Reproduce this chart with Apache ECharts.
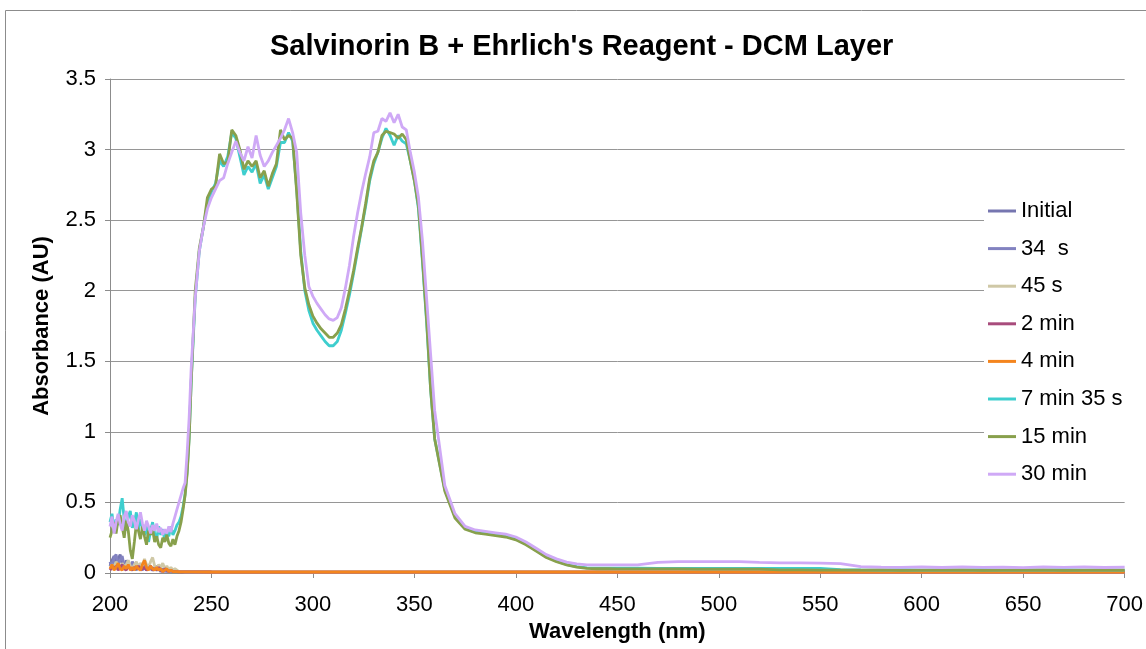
<!DOCTYPE html>
<html>
<head>
<meta charset="utf-8">
<script src="https://cdn.jsdelivr.net/npm/echarts@6/dist/echarts.min.js"></script>
<style>html,body{margin:0;padding:0;background:#fff;}#c{width:1146px;height:649px;}</style>
</head>
<body>
<div id="c"></div>
<script>
// Wavelength grid (nm) for the main curves
const wl = [200,201,202,203,204,205,206,207,208,209,210,211,212,213,214,215,216,217,218,219,220,221,222,223,224,225,226,227,228,229,230,231,232,233,234,235,236,237,238,239,240,
242,244,246,248,250,252,254,256,258,260,262,264,266,268,270,272,274,276,278,280,282,284,286,288,290,292,294,296,298,300,
302,304,306,308,310,312,314,316,318,320,322,324,326,328,330,332,334,336,338,340,342,344,346,348,350,352,354,356,358,360,
365,370,375,380,385,390,395,400,405,410,415,420,425,430,435,440,445,450,
460,470,480,490,500,510,520,530,540,550,560,570,580,590,600,610,620,630,640,650,660,670,680,690,700];

// Wavelength grid (nm) for the near-zero curves
const wlSmall = [200,201,202,203,204,205,206,207,208,209,210,211,212,213,214,215,216,217,218,219,220,221,222,223,224,225,226,227,228,229,230,231,232,233,234,235,236,237,238,239,240,
250,300,350,400,450,500,550,600,650,700];

const seriesNames = ["Initial", "34  s", "45 s", "2 min", "4 min", "7 min 35 s", "15 min", "30 min"];

const initial = [0.05,0.09,0.12,0.06,0.10,0.13,0.07,0.04,0.09,0.05,0.03,0.06,0.04,0.02,0.05,0.03,0.06,0.04,0.02,0.05,0.03,0.02,0.04,0.02,0.03,0.01,0.03,0.02,0.01,0.02,0.01,0.02,0.01,0.01,0.01,0.01,0.01,0.008,0.008,0.008,0.008,
0.007,0.006,0.006,0.006,0.006,0.006,0.006,0.006,0.006,0.006];
const s34 = [0.08,0.04,0.11,0.13,0.06,0.09,0.12,0.05,0.03,0.07,0.04,0.08,0.05,0.03,0.06,0.04,0.02,0.05,0.03,0.06,0.04,0.02,0.03,0.05,0.02,0.03,0.02,0.01,0.03,0.01,0.02,0.01,0.02,0.01,0.01,0.01,0.008,0.008,0.008,0.008,0.008,
0.007,0.006,0.006,0.006,0.006,0.006,0.006,0.006,0.006,0.006];
const s45 = [0.03,0.06,0.04,0.08,0.05,0.03,0.07,0.04,0.06,0.09,0.05,0.03,0.06,0.08,0.04,0.07,0.05,0.10,0.06,0.04,0.08,0.11,0.05,0.03,0.06,0.04,0.07,0.03,0.05,0.02,0.04,0.02,0.03,0.02,0.01,0.01,0.01,0.008,0.008,0.008,0.008,
0.007,0.006,0.006,0.006,0.006,0.006,0.006,0.006,0.006,0.006];
const m2 = [0.02,0.04,0.03,0.05,0.02,0.04,0.06,0.03,0.02,0.05,0.03,0.02,0.04,0.03,0.05,0.02,0.03,0.04,0.02,0.03,0.05,0.02,0.03,0.02,0.04,0.02,0.01,0.03,0.02,0.01,0.02,0.01,0.01,0.01,0.008,0.008,0.008,0.008,0.008,0.008,0.008,
0.007,0.006,0.006,0.006,0.006,0.006,0.006,0.006,0.006,0.006];
const m4 = [0.03,0.06,0.02,0.04,0.07,0.03,0.02,0.05,0.03,0.06,0.02,0.04,0.02,0.05,0.03,0.02,0.06,0.09,0.04,0.02,0.05,0.03,0.02,0.04,0.02,0.03,0.01,0.02,0.03,0.01,0.02,0.01,0.01,0.01,0.008,0.008,0.008,0.008,0.008,0.008,0.008,
0.007,0.007,0.007,0.007,0.007,0.007,0.007,0.007,0.007,0.007];

const m7s35 = [0.36,0.42,0.30,0.38,0.34,0.45,0.53,0.38,0.30,0.40,0.44,0.32,0.36,0.43,0.30,0.38,0.33,0.27,0.35,0.22,0.30,0.36,0.28,0.24,0.33,0.27,0.31,0.23,0.29,0.26,0.33,0.27,0.30,0.34,0.36,0.40,0.47,0.56,0.72,0.96,1.35,
1.95,2.28,2.45,2.62,2.70,2.76,2.92,2.88,2.95,3.12,3.08,2.95,2.82,2.88,2.84,2.90,2.76,2.82,2.72,2.80,2.88,3.05,3.05,3.12,3.06,2.72,2.28,2.00,1.86,1.77,
1.72,1.68,1.64,1.61,1.61,1.64,1.72,1.84,1.97,2.12,2.28,2.44,2.60,2.78,2.90,2.98,3.08,3.15,3.10,3.03,3.10,3.06,3.04,2.92,2.78,2.58,2.20,1.78,1.30,0.95,
0.59,0.40,0.315,0.29,0.28,0.27,0.26,0.24,0.205,0.16,0.115,0.085,0.06,0.045,0.036,0.034,0.034,0.034,
0.034,0.033,0.033,0.033,0.033,0.033,0.033,0.032,0.032,0.032,0.024,0.022,0.021,0.023,0.020,0.022,0.021,0.023,0.020,0.022,0.021,0.023,0.020,0.022,0.021];

const m15 = [0.25,0.30,0.36,0.28,0.38,0.41,0.33,0.25,0.37,0.30,0.16,0.10,0.22,0.35,0.30,0.24,0.33,0.26,0.20,0.30,0.27,0.31,0.22,0.26,0.20,0.18,0.25,0.22,0.27,0.21,0.19,0.24,0.20,0.26,0.30,0.36,0.45,0.55,0.70,0.95,1.35,
2.00,2.30,2.45,2.66,2.72,2.74,2.97,2.90,2.91,3.14,3.10,3.00,2.86,2.92,2.88,2.92,2.80,2.85,2.74,2.83,2.90,3.14,3.07,3.10,3.08,2.70,2.25,2.02,1.90,1.82,
1.77,1.73,1.70,1.67,1.67,1.70,1.76,1.87,2.00,2.14,2.30,2.45,2.62,2.80,2.92,2.98,3.10,3.13,3.12,3.11,3.08,3.11,3.07,2.92,2.78,2.60,2.22,1.80,1.30,0.95,
0.58,0.39,0.31,0.285,0.275,0.265,0.255,0.235,0.20,0.155,0.11,0.08,0.057,0.042,0.033,0.030,0.030,0.029,
0.029,0.029,0.029,0.028,0.028,0.028,0.028,0.022,0.022,0.021,0.021,0.020,0.022,0.019,0.021,0.020,0.022,0.019,0.021,0.020,0.022,0.019,0.021,0.020,0.021];

const m30 = [0.33,0.40,0.28,0.36,0.42,0.35,0.30,0.40,0.44,0.36,0.33,0.41,0.37,0.31,0.38,0.43,0.35,0.30,0.37,0.33,0.28,0.34,0.30,0.35,0.29,0.32,0.27,0.31,0.28,0.33,0.29,0.35,0.40,0.45,0.50,0.55,0.60,0.64,0.85,1.10,1.45,
1.95,2.28,2.45,2.58,2.66,2.72,2.78,2.80,2.90,2.98,3.06,2.98,2.92,3.02,2.94,3.10,2.96,2.88,2.92,2.98,3.03,3.08,3.14,3.22,3.12,2.98,2.55,2.25,2.03,1.96,
1.91,1.87,1.83,1.80,1.79,1.81,1.88,2.02,2.18,2.38,2.55,2.70,2.83,2.95,3.12,3.13,3.22,3.20,3.26,3.19,3.25,3.16,3.14,2.98,2.84,2.66,2.35,1.95,1.55,1.15,
0.62,0.42,0.33,0.305,0.295,0.285,0.275,0.255,0.22,0.175,0.13,0.10,0.077,0.064,0.058,0.058,0.058,0.058,
0.058,0.075,0.080,0.080,0.080,0.080,0.075,0.072,0.072,0.070,0.066,0.045,0.042,0.040,0.043,0.039,0.044,0.040,0.042,0.038,0.043,0.040,0.044,0.039,0.042];

const colors = ["#7676B0", "#8282C0", "#CFC8A6", "#A84C7C", "#F4851E", "#3ECECE", "#88A04C", "#CFA9F6"];

const xTicks = { min: 200, max: 700, interval: 50 };
const yTicks = { min: 0, max: 3.5, interval: 0.5 };

function pairs(xs, ys) { return xs.map((x, i) => [x, ys[i]]); }

const seriesData = [
  pairs(wlSmall, initial),
  pairs(wlSmall, s34),
  pairs(wlSmall, s45),
  pairs(wlSmall, m2),
  pairs(wlSmall, m4),
  pairs(wl, m7s35),
  pairs(wl, m15),
  pairs(wl, m30)
];

const chart = echarts.init(document.getElementById('c'));
const font = '"Liberation Sans", Arial, sans-serif';
chart.setOption({
  animation: false,
  backgroundColor: '#fff',
  color: colors,
  textStyle: { fontFamily: font },
  graphic: [{
    type: 'rect', silent: true, z: -10,
    shape: { x: 5.5, y: 10.5, width: 1200, height: 700 },
    style: { fill: 'none', stroke: '#8c8c8c', lineWidth: 1 }
  }],
  title: {
    text: "Salvinorin B + Ehrlich's Reagent - DCM Layer",
    left: 265, top: 27,
    textStyle: { fontFamily: font, fontSize: 29, fontWeight: 'bold', color: '#000' }
  },
  grid: { left: 110, right: 21, top: 79, bottom: 76 },
  legend: {
    data: seriesNames,
    orient: 'vertical',
    left: 984, top: 197,
    padding: [3, 4, 3, 4],
    backgroundColor: '#fff',
    itemWidth: 28, itemHeight: 3, itemGap: 15.6,
    icon: 'rect',
    textStyle: { fontFamily: font, fontSize: 22, color: '#000', lineHeight: 22, padding: [0, 0, 0, 0] }
  },
  xAxis: {
    type: 'value', min: xTicks.min, max: xTicks.max, interval: xTicks.interval,
    name: 'Wavelength (nm)', nameLocation: 'middle', nameGap: 47,
    nameTextStyle: { fontFamily: font, fontSize: 22, fontWeight: 'bold', color: '#000' },
    axisLine: { show: true, lineStyle: { color: '#8c8c8c', width: 1 } },
    axisTick: { show: true, length: 5, lineStyle: { color: '#8c8c8c' } },
    axisLabel: { fontFamily: font, fontSize: 22, color: '#000', margin: 21 },
    splitLine: { show: false }
  },
  yAxis: {
    type: 'value', min: yTicks.min, max: yTicks.max, interval: yTicks.interval,
    name: 'Absorbance (AU)', nameLocation: 'middle', nameGap: 57, nameRotate: 90,
    nameTextStyle: { fontFamily: font, fontSize: 22, fontWeight: 'bold', color: '#000' },
    axisLine: { show: true, lineStyle: { color: '#8c8c8c', width: 1 } },
    axisTick: { show: true, length: 5, lineStyle: { color: '#8c8c8c' } },
    axisLabel: { fontFamily: font, fontSize: 22, color: '#000', margin: 14 },
    splitLine: { show: true, lineStyle: { color: '#969696', width: 1 } }
  },
  series: seriesNames.map((n, i) => ({
    name: n, type: 'line', data: seriesData[i],
    symbol: 'none', showSymbol: false,
    lineStyle: { width: 2.8, color: colors[i] },
    itemStyle: { color: colors[i] }
  }))
});
</script>
</body>
</html>
